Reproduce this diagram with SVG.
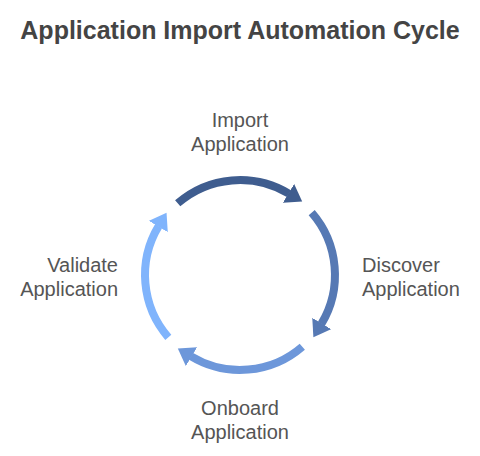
<svg xmlns="http://www.w3.org/2000/svg" width="480" height="456" viewBox="0 0 480 456">
  <style>
    .title { font-family: "Liberation Sans", Arial, sans-serif; font-size: 25px; font-weight: bold; fill: #444444; }
    .label { font-family: "Liberation Sans", Arial, sans-serif; font-size: 20px; fill: #555555; }
    .arc { fill: none; stroke-width: 8; stroke-linecap: butt; }
  </style>
  <defs>
    <marker id="ah1" markerUnits="userSpaceOnUse" markerWidth="18" markerHeight="22" refX="0.5" refY="11" orient="auto"><path d="M0,0 L16,11 L0,22 z" fill="#3f5d8f"/></marker>
    <marker id="ah2" markerUnits="userSpaceOnUse" markerWidth="18" markerHeight="22" refX="0.5" refY="11" orient="auto"><path d="M0,0 L16,11 L0,22 z" fill="#5679b4"/></marker>
    <marker id="ah3" markerUnits="userSpaceOnUse" markerWidth="18" markerHeight="22" refX="0.5" refY="11" orient="auto"><path d="M0,0 L16,11 L0,22 z" fill="#6d97da"/></marker>
    <marker id="ah4" markerUnits="userSpaceOnUse" markerWidth="18" markerHeight="22" refX="0.5" refY="11" orient="auto"><path d="M0,0 L16,11 L0,22 z" fill="#80b4fc"/></marker>
  </defs>
  <text class="title" x="240" y="39" text-anchor="middle">Application Import Automation Cycle</text>
  <g id="connectors">
    <path class="arc" stroke="#3f5d8f" marker-end="url(#ah1)" d="M177.7,203.3 A95,95 0 0 1 288.9,193.6"/>
    <path class="arc" stroke="#5679b4" marker-end="url(#ah2)" d="M311.7,212.7 A95,95 0 0 1 321.4,323.9"/>
    <path class="arc" stroke="#6d97da" marker-end="url(#ah3)" d="M302.3,346.7 A95,95 0 0 1 191.1,356.4"/>
    <path class="arc" stroke="#80b4fc" marker-end="url(#ah4)" d="M168.3,337.3 A95,95 0 0 1 158.6,226.1"/>
  </g>
  <g id="import">
    <text class="label" x="240" y="127" text-anchor="middle">Import</text>
    <text class="label" x="240" y="151" text-anchor="middle">Application</text>
  </g>
  <g id="discover">
    <text class="label" x="362" y="272">Discover</text>
    <text class="label" x="362" y="296">Application</text>
  </g>
  <g id="onboard">
    <text class="label" x="240" y="415" text-anchor="middle">Onboard</text>
    <text class="label" x="240" y="439" text-anchor="middle">Application</text>
  </g>
  <g id="validate">
    <text class="label" x="118" y="272" text-anchor="end">Validate</text>
    <text class="label" x="118" y="296" text-anchor="end">Application</text>
  </g>
</svg>
